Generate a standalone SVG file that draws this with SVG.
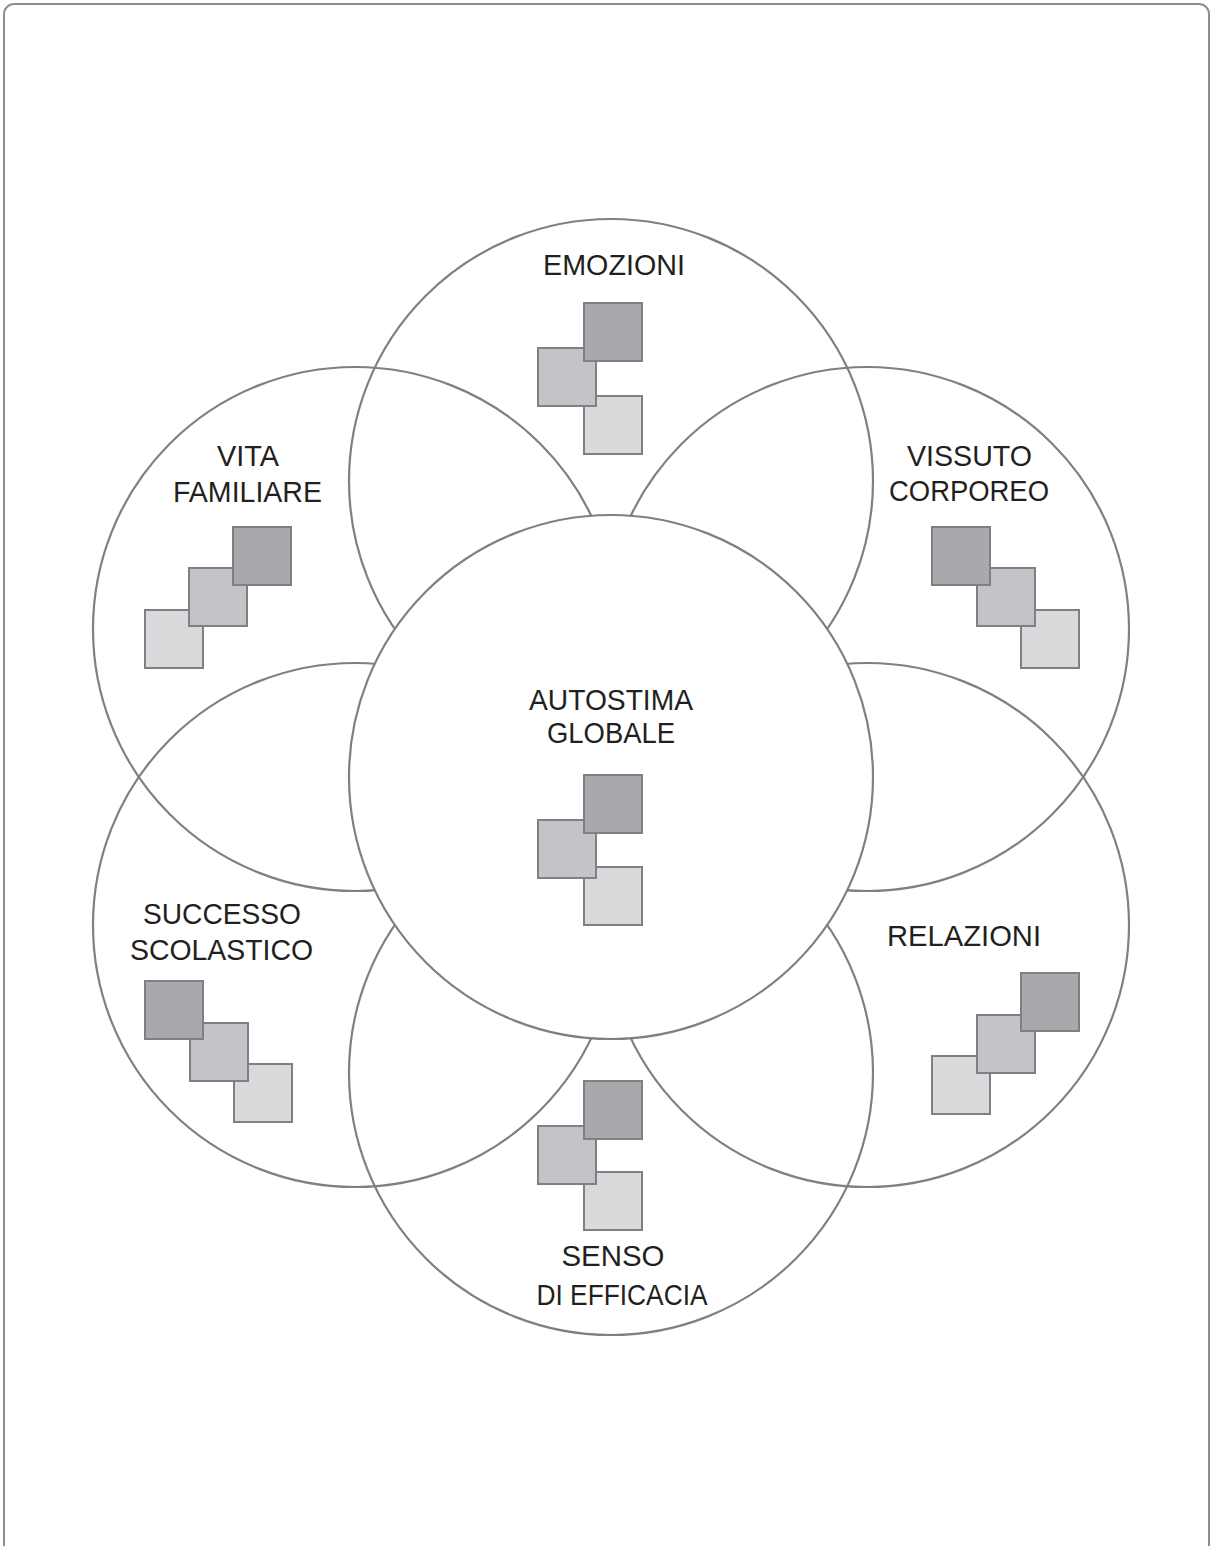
<svg xmlns="http://www.w3.org/2000/svg" width="1213" height="1546" viewBox="0 0 1213 1546">
<style>
.frame{fill:#ffffff;stroke:#8e8e8e;stroke-width:2}
.ring{fill:none;stroke:#808083;stroke-width:2.2}
.core{fill:#ffffff;stroke:#808083;stroke-width:2.2}
.sq{stroke:#7f8083;stroke-width:2}
.d{fill:#a8a9ac}
.m{fill:#c3c4c7}
.l{fill:#d9dadc}
.t{font-family:"Liberation Sans",Arial,sans-serif;font-size:30px;fill:#231f20;text-anchor:middle}
</style>
<rect class="frame" x="4" y="4" width="1205" height="1560" rx="10"/>
<g id="ring-emozioni"><circle class="ring" cx="611" cy="481" r="262"/></g>
<g id="ring-vita"><circle class="ring" cx="355" cy="629" r="262"/></g>
<g id="ring-vissuto"><circle class="ring" cx="867" cy="629" r="262"/></g>
<g id="ring-successo"><circle class="ring" cx="355" cy="925" r="262"/></g>
<g id="ring-relazioni"><circle class="ring" cx="867" cy="925" r="262"/></g>
<g id="ring-senso"><circle class="ring" cx="611" cy="1073" r="262"/></g>
<g id="ring-autostima"><circle class="core" cx="611" cy="777" r="262"/></g>

<g id="node-emozioni">
<text class="t" x="614" y="275" textLength="142" lengthAdjust="spacingAndGlyphs">EMOZIONI</text>
<rect class="sq l" x="584" y="396" width="58" height="58"/>
<rect class="sq m" x="538" y="348" width="58" height="58"/>
<rect class="sq d" x="584" y="303" width="58" height="58"/>
</g>
<g id="node-vita">
<text class="t" x="248" y="466" textLength="62" lengthAdjust="spacingAndGlyphs">VITA</text>
<text class="t" x="247.5" y="502" textLength="149" lengthAdjust="spacingAndGlyphs">FAMILIARE</text>
<rect class="sq l" x="145" y="610" width="58" height="58"/>
<rect class="sq m" x="189" y="568" width="58" height="58"/>
<rect class="sq d" x="233" y="527" width="58" height="58"/>
</g>
<g id="node-vissuto">
<text class="t" x="969.5" y="466" textLength="125" lengthAdjust="spacingAndGlyphs">VISSUTO</text>
<text class="t" x="969" y="501" textLength="160" lengthAdjust="spacingAndGlyphs">CORPOREO</text>
<rect class="sq l" x="1021" y="610" width="58" height="58"/>
<rect class="sq m" x="977" y="568" width="58" height="58"/>
<rect class="sq d" x="932" y="527" width="58" height="58"/>
</g>
<g id="node-autostima">
<text class="t" x="611" y="710" textLength="164" lengthAdjust="spacingAndGlyphs">AUTOSTIMA</text>
<text class="t" x="611" y="743" textLength="128" lengthAdjust="spacingAndGlyphs">GLOBALE</text>
<rect class="sq l" x="584" y="867" width="58" height="58"/>
<rect class="sq m" x="538" y="820" width="58" height="58"/>
<rect class="sq d" x="584" y="775" width="58" height="58"/>
</g>
<g id="node-successo">
<text class="t" x="222" y="924" textLength="158" lengthAdjust="spacingAndGlyphs">SUCCESSO</text>
<text class="t" x="221.5" y="960" textLength="183" lengthAdjust="spacingAndGlyphs">SCOLASTICO</text>
<rect class="sq l" x="234" y="1064" width="58" height="58"/>
<rect class="sq m" x="190" y="1023" width="58" height="58"/>
<rect class="sq d" x="145" y="981" width="58" height="58"/>
</g>
<g id="node-relazioni">
<text class="t" x="964" y="946" textLength="154" lengthAdjust="spacingAndGlyphs">RELAZIONI</text>
<rect class="sq l" x="932" y="1056" width="58" height="58"/>
<rect class="sq m" x="977" y="1015" width="58" height="58"/>
<rect class="sq d" x="1021" y="973" width="58" height="58"/>
</g>
<g id="node-senso">
<rect class="sq l" x="584" y="1172" width="58" height="58"/>
<rect class="sq m" x="538" y="1126" width="58" height="58"/>
<rect class="sq d" x="584" y="1081" width="58" height="58"/>
<text class="t" x="613" y="1266" textLength="103" lengthAdjust="spacingAndGlyphs">SENSO</text>
<text class="t" x="622" y="1305" textLength="171" lengthAdjust="spacingAndGlyphs">DI EFFICACIA</text>
</g>
<g id="connectors"></g>
</svg>
